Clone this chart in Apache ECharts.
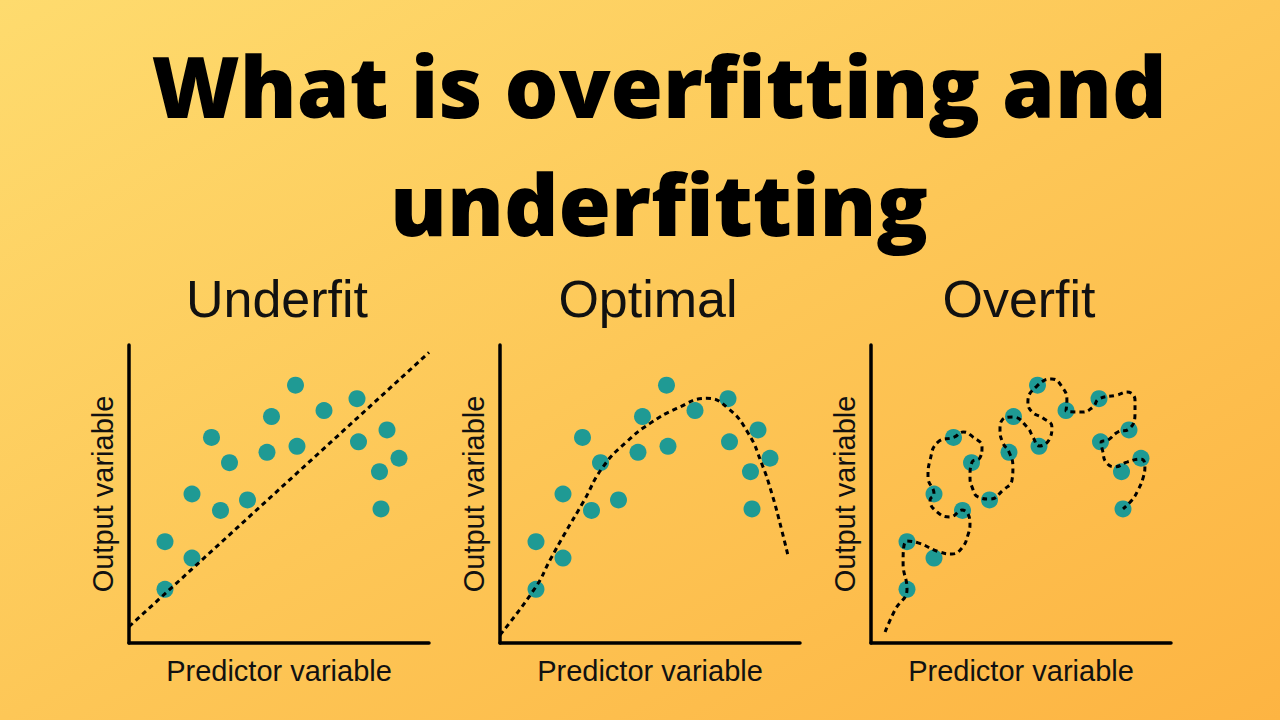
<!DOCTYPE html>
<html>
<head>
<meta charset="utf-8">
<script src="https://cdn.jsdelivr.net/npm/echarts@6/dist/echarts.min.js"></script>
<style>
html,body{margin:0;padding:0;width:1280px;height:720px;overflow:hidden;}
#chart{width:1280px;height:720px;}
</style>
</head>
<body>
<div id="chart"></div>
<script>
// ---- text ----
const mainTitleLines = ['What is overfitting and', 'underfitting'];
const panelTitles = ['Underfit', 'Optimal', 'Overfit'];
const xAxisName = 'Predictor variable';
const yAxisName = 'Output variable';

// ---- observed points (same in every panel) ----
const predictorValues = [1.2, 1.2, 2.1, 2.1, 3.05, 2.75, 3.35, 3.95, 4.6, 4.75, 5.55, 5.6, 6.5, 7.6, 7.65, 8.6, 8.35, 9.0, 8.4];
const outputValues    = [1.8, 3.4, 2.85, 5.0, 4.45, 6.9, 6.05, 4.8, 6.4, 7.6, 8.65, 6.6, 7.8, 8.2, 6.75, 7.15, 5.75, 6.2, 4.5];

// ---- fitted curves ----
const underfitX = [0, 10];
const underfitY = [0.55, 9.75];

const optimalX = [0, 1.2, 1.67, 2.17, 2.78, 3.44, 4.22, 5.0, 5.89, 6.89, 7.61, 8.28, 8.72, 9.06, 9.39, 9.61];
const optimalY = [0.27, 1.89, 2.79, 3.69, 4.74, 5.92, 6.75, 7.37, 7.87, 8.21, 7.87, 7.03, 6.03, 5.02, 3.79, 2.89];

const overfitX = [0.47, 0.8, 1.2, 1.07, 1.2, 1.57, 2.3, 2.7, 3.03, 3.23, 3.3, 3.03, 2.63, 2.2, 1.97, 2.1, 1.9, 1.97, 2.23, 2.77,
  3.07, 3.4, 3.7, 3.63, 3.37, 3.3, 3.37, 3.57, 3.97, 4.4, 4.7, 4.73, 4.6, 4.4, 4.3, 4.37, 4.73, 5.2, 5.4, 5.6,
  5.97, 6.03, 5.73, 5.37, 5.23, 5.53, 6.03, 6.37, 6.53, 6.5, 7.03, 7.4, 7.6, 8.2, 8.53, 8.8, 8.8, 8.6, 8.23, 7.9,
  7.67, 7.73, 7.83, 8.13, 8.53, 9.0, 9.13, 9.07, 8.9, 8.7, 8.4];
const overfitY = [0.37, 1.11, 1.81, 2.68, 3.42, 3.36, 3.05, 2.99, 3.19, 3.62, 4.03, 4.46, 4.23, 4.4, 4.8, 5.0, 5.57, 6.14, 6.74, 6.91,
  7.08, 6.91, 6.58, 6.21, 6.07, 5.57, 5.23, 4.9, 4.83, 5.13, 5.47, 5.91, 6.41, 6.71, 7.15, 7.48, 7.58, 7.25, 6.91, 6.61,
  6.88, 7.25, 7.55, 7.75, 8.09, 8.62, 8.86, 8.59, 8.15, 7.79, 7.75, 7.92, 8.19, 8.32, 8.42, 8.15, 7.72, 7.18, 7.08, 6.81,
  6.74, 6.41, 6.07, 5.91, 6.07, 6.17, 5.94, 5.54, 5.13, 4.8, 4.5];

const zip = (xs, ys) => xs.map((x, i) => [x, ys[i]]);
const scatterData = zip(predictorValues, outputValues);
const curves = [
  { data: zip(underfitX, underfitY), smooth: false },
  { data: zip(optimalX, optimalY), smooth: 0.5 },
  { data: zip(overfitX, overfitY), smooth: 0.5 }
];

const gridLefts = [129, 500, 871];
const gridW = 300, gridTop = 345, gridH = 298;
const teal = '#1f9a94';
const ink = '#111111';
const panelFont = '"Liberation Sans", Arial, sans-serif';

const grids = [], xAxes = [], yAxes = [], series = [], graphics = [];
gridLefts.forEach((left, i) => {
  grids.push({ left: left, top: gridTop, width: gridW, height: gridH });
  const axisCommon = {
    gridIndex: i, type: 'value', min: 0, max: 10,
    axisLine: { show: true, onZero: false, lineStyle: { color: '#000', width: 3.5 } },
    axisTick: { show: false }, axisLabel: { show: false }, splitLine: { show: false },
    nameLocation: 'middle',
    nameTextStyle: { fontFamily: panelFont, fontSize: 29, color: ink }
  };
  xAxes.push(Object.assign({}, axisCommon, { name: xAxisName, nameGap: 13 }));
  yAxes.push(Object.assign({}, axisCommon, { name: yAxisName, nameGap: 12 }));
  series.push({
    type: 'scatter', xAxisIndex: i, yAxisIndex: i, data: scatterData,
    symbol: 'circle', symbolSize: 17, itemStyle: { color: teal, opacity: 1 },
    silent: true, z: 2
  });
  series.push({
    type: 'line', xAxisIndex: i, yAxisIndex: i, data: curves[i].data,
    smooth: curves[i].smooth, showSymbol: false, symbol: 'none', clip: false,
    lineStyle: { color: '#000', width: 3, type: [5, 4], cap: 'butt' },
    silent: true, z: 3
  });
  graphics.push({
    type: 'text', x: left + gridW / 2 - 2, y: 299,
    style: { text: panelTitles[i], font: '52px ' + panelFont, fill: ink,
      textAlign: 'center', align: 'center', textVerticalAlign: 'middle', verticalAlign: 'middle' }
  });
});

graphics.push({
  type: 'text', x: 659, y: 85,
  style: { text: mainTitleLines[0], font: '800 85px "Open Sans", sans-serif', fill: '#000',
    textAlign: 'center', align: 'center', textVerticalAlign: 'middle', verticalAlign: 'middle' }
});
graphics.push({
  type: 'text', x: 659, y: 203,
  style: { text: mainTitleLines[1], font: '800 85px "Open Sans", sans-serif', fill: '#000',
    textAlign: 'center', align: 'center', textVerticalAlign: 'middle', verticalAlign: 'middle' }
});

const chart = echarts.init(document.getElementById('chart'), null, { renderer: 'svg' });
chart.setOption({
  animation: false,
  backgroundColor: {
    type: 'linear', x: 0, y: 0, x2: 1, y2: 1,
    colorStops: [
      { offset: 0, color: '#fedb6e' },
      { offset: 0.5, color: '#fdc757' },
      { offset: 1, color: '#fdb442' }
    ]
  },
  grid: grids,
  xAxis: xAxes,
  yAxis: yAxes,
  series: series,
  graphic: graphics
});
</script>
</body>
</html>
